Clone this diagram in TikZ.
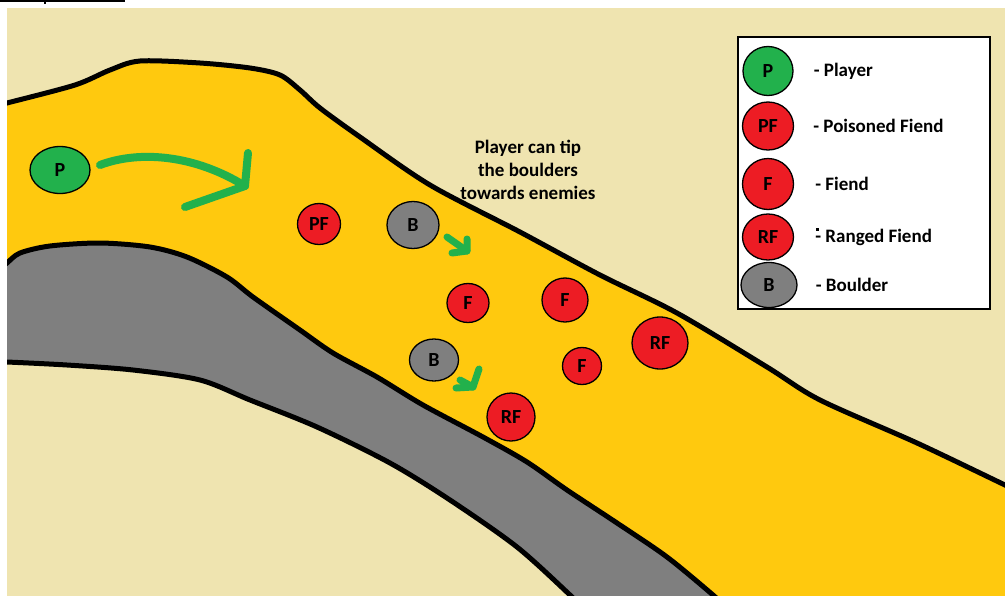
\documentclass[tikz,border=0pt]{standalone}
\usepackage{fontspec}
\setmainfont{Carlito}
\usetikzlibrary{shapes.geometric, positioning}
\definecolor{sandbeige}{HTML}{EFE4B0}
\definecolor{pathgold}{HTML}{FFC90E}
\definecolor{rockgrey}{HTML}{7F7F7F}
\definecolor{playergreen}{HTML}{22B14C}
\definecolor{fiendred}{HTML}{ED1C24}
\tikzset{
  token/.style={ellipse, draw=black, line width=1.3pt, inner sep=0pt, font=\fontsize{20}{20}\selectfont\bfseries},
  playertok/.style={token, fill=playergreen},
  fiendtok/.style={token, fill=fiendred},
  bouldertok/.style={token, fill=rockgrey},
  edgeline/.style={draw=black, line width=5pt, line join=round},
  tipmark/.style={draw=playergreen, line width=7pt, line cap=round, line join=round},
  legendtext/.style={font=\fontsize{19}{19}\selectfont\bfseries, inner sep=0pt}
}

\begin{document}
\begin{tikzpicture}[x=1pt, y=-1pt]
    \useasboundingbox (0,0) rectangle (1005,595);
    \fill[white] (0,0) rectangle (1005,595);
    \fill[black] (0,0) rectangle (125,2);
    \fill[black] (44,2) rectangle (46,4);

    % Terrain
    \begin{scope}
        \clip (7,8) rectangle (1005,595);
        \fill[sandbeige] (7,8) rectangle (1005,595);
        \fill[pathgold] plot[smooth, tension=0.5] coordinates {(7,103) (75,85) (110,70) (140,61) (200,63) (250,68) (280,75) (300,90) (320,108) (360,137) (430,185) (520,232) (600,275) (677,313) (767,367) (820,400) (917,443) (1005,485)}
            -- (1005,600) -- (0,600) -- cycle;
        \fill[rockgrey] plot[smooth, tension=0.5] coordinates {(7,263) (20,253) (50,246) (100,243) (150,247) (187,257) (227,277) (253,297) (300,330) (333,353) (377,377) (423,405) (483,437) (527,462) (567,490) (617,523) (667,557) (713,595)}
            -- (713,600) -- (0,600) -- cycle;
        \fill[sandbeige] plot[smooth, tension=0.5] coordinates {(7,362) (67,365) (133,370) (200,380) (250,400) (317,427) (390,463) (450,500) (517,547) (570,595)}
            -- (570,600) -- (0,600) -- cycle;
        \draw[edgeline] plot[smooth, tension=0.5] coordinates {(3,104) (7,103) (75,85) (110,70) (140,61) (200,63) (250,68) (280,75) (300,90) (320,108) (360,137) (430,185) (520,232) (600,275) (677,313) (767,367) (820,400) (917,443) (1005,485) (1010,487)};
        \draw[edgeline] plot[smooth, tension=0.5] coordinates {(3,266) (7,263) (20,253) (50,246) (100,243) (150,247) (187,257) (227,277) (253,297) (300,330) (333,353) (377,377) (423,405) (483,437) (527,462) (567,490) (617,523) (667,557) (713,595) (717,600)};
        \draw[edgeline] plot[smooth, tension=0.5] coordinates {(3,362) (7,362) (67,365) (133,370) (200,380) (250,400) (317,427) (390,463) (450,500) (517,547) (570,595) (574,600)};
    \end{scope}

    % Legend
    \draw[fill=white, line width=1.5pt] (738,37) rectangle (990,309);
    \node[playertok, minimum width=50pt, minimum height=49pt] (KeyPlayer) at (768,71) {P};
    \node[fiendtok, minimum width=51pt, minimum height=48pt] (KeyPoison) at (768,126) {PF};
    \node[fiendtok, minimum width=51pt, minimum height=51pt] (KeyFiend) at (768,184) {F};
    \node[fiendtok, minimum width=51pt, minimum height=46pt] (KeyRanged) at (768,237) {RF};
    \node[bouldertok, minimum width=56pt, minimum height=45pt] (KeyBoulder) at (769,285) {B};
    \node[legendtext, right=20pt of KeyPlayer] (KeyPlayerTxt) {- Player};
    \node[legendtext, right=19pt of KeyPoison] (KeyPoisonTxt) {- Poisoned Fiend};
    \node[legendtext, right=21pt of KeyFiend] (KeyFiendTxt) {- Fiend};
    \node[legendtext, right=21pt of KeyRanged] (KeyRangedTxt) {- Ranged Fiend};
    \node[legendtext, right=18pt of KeyBoulder] (KeyBoulderTxt) {- Boulder};
    \fill[black] (816,228) rectangle (819,231);

    % Tokens on the map
    \node[playertok, minimum width=60pt, minimum height=47pt] (Player) at (60,170) {P};
    \node[fiendtok, minimum width=43pt, minimum height=41pt] (PoisonFiend) at (319,224) {PF};
    \node[bouldertok, minimum width=52pt, minimum height=47pt] (BoulderUp) at (413,225) {B};
    \node[fiendtok, minimum width=42pt, minimum height=39pt] (FiendA) at (468,303) {F};
    \node[fiendtok, minimum width=46pt, minimum height=44pt] (FiendB) at (565,300) {F};
    \node[fiendtok, minimum width=56pt, minimum height=52pt] (RangedA) at (660,343) {RF};
    \node[bouldertok, minimum width=49pt, minimum height=42pt] (BoulderLow) at (434,360) {B};
    \node[fiendtok, minimum width=39pt, minimum height=37pt] (FiendC) at (582,366) {F};
    \node[fiendtok, minimum width=48pt, minimum height=48pt] (RangedB) at (511,417) {RF};

    % Movement strokes
    \coordinate (MoveTail) at (100,165);
    \coordinate (MoveTip) at (245,186);
    \draw[tipmark, line width=8pt] (MoveTail) .. controls (140,150) and (195,155) .. (MoveTip);
    \draw[tipmark, line width=8pt] (248,153) -- (MoveTip) -- (185,207);
    \coordinate (TipUpTail) at (447,237);
    \coordinate (TipUpTip) at (467,251);
    \draw[tipmark] (TipUpTail) -- (TipUpTip);
    \draw[tipmark] (467,239) -- (TipUpTip) -- (452,253);
    \coordinate (TipLowTail) at (460,380);
    \coordinate (TipLowTip) at (473,387);
    \draw[tipmark] (TipLowTail) -- (TipLowTip);
    \draw[tipmark] (479,369) -- (TipLowTip) -- (456,388);

    \node[align=center, inner sep=0pt, font=\fontsize{19}{23}\selectfont\bfseries] (TipNote) at (528,170) {Player can tip\\the boulders\\towards enemies};
\end{tikzpicture}
\end{document}
